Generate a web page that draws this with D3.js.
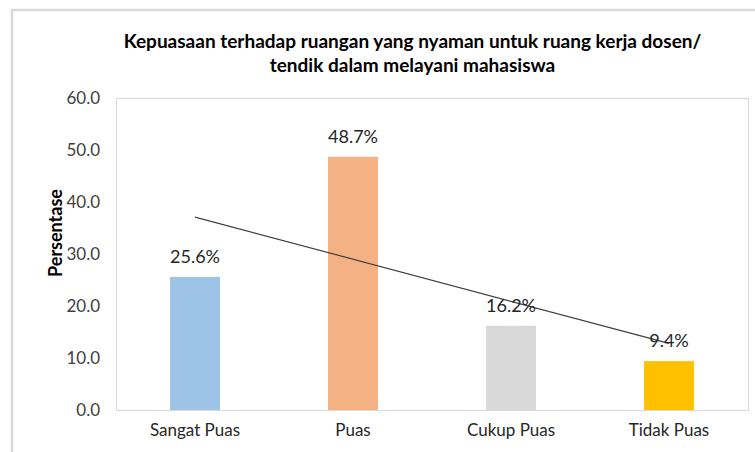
<!DOCTYPE html>
<html>
<head>
<meta charset="utf-8">
<script src="https://cdn.jsdelivr.net/npm/d3@7"></script>
<style>
  html, body { margin: 0; padding: 0; background: #fff; }
  svg { display: block; }
  text { font-family: Lato, "Open Sans", sans-serif; }
</style>
</head>
<body>
<svg id="chart" width="755" height="452"></svg>
<script>
// ── data ──
var categories = ['Sangat Puas', 'Puas', 'Cukup Puas', 'Tidak Puas'];
var values = [25.6, 48.7, 16.2, 9.4];
var barColors = ['#9DC3E6', '#F4B183', '#D9D9D9', '#FFC000'];
var yTicks = [0, 10, 20, 30, 40, 50, 60];
// linear trendline, value at first and last category
var trendValues = [37.1, 12.8];
var titleLines = ['Kepuasaan terhadap ruangan yang nyaman untuk ruang kerja dosen/', 'tendik dalam melayani mahasiswa'];
var yTitle = 'Persentase';

(function () {
  var svg = d3.select('#chart');
  var plot = { left: 116, right: 748, top: 98, bottom: 410 };

  svg.append('rect').attr('width', 755).attr('height', 452).attr('fill', '#fff');

  // outer chart frame
  svg.append('rect')
    .attr('x', 12).attr('y', 10).attr('width', 800).attr('height', 500)
    .attr('fill', 'none').attr('stroke', '#D9D9D9').attr('stroke-width', 2.5);

  var x = d3.scaleBand().domain(categories).range([plot.left, plot.right])
    .paddingInner(0.684).paddingOuter(0.342);
  var y = d3.scaleLinear().domain([0, 60]).range([plot.bottom, plot.top]);

  // plot area border
  svg.append('rect')
    .attr('x', plot.left + 0.5).attr('y', plot.top + 0.5)
    .attr('width', plot.right - plot.left).attr('height', plot.bottom - plot.top)
    .attr('fill', 'none').attr('stroke', '#D9D9D9').attr('stroke-width', 1);

  // y axis labels
  var yAxis = d3.axisLeft(y).tickValues(yTicks).tickFormat(d3.format('.1f')).tickSize(0).tickPadding(16);
  var gy = svg.append('g').attr('transform', 'translate(' + plot.left + ',0)').call(yAxis);
  gy.select('.domain').remove();
  gy.selectAll('text').attr('font-size', 17).attr('fill', '#404040')
    .style('font-family', 'Lato, sans-serif');

  // x axis labels
  var xAxis = d3.axisBottom(x).tickSize(0).tickPadding(14);
  var gx = svg.append('g').attr('transform', 'translate(0,' + plot.bottom + ')').call(xAxis);
  gx.select('.domain').remove();
  gx.selectAll('text').attr('font-size', 17).attr('fill', '#262626')
    .style('font-family', 'Lato, sans-serif');

  // bars
  svg.append('g').selectAll('rect').data(values).join('rect')
    .attr('x', function (d, i) { return x(categories[i]); })
    .attr('y', function (d) { return y(d); })
    .attr('width', x.bandwidth())
    .attr('height', function (d) { return y(0) - y(d); })
    .attr('fill', function (d, i) { return barColors[i]; });

  // trendline
  svg.append('line')
    .attr('x1', x(categories[0]) + x.bandwidth() / 2)
    .attr('y1', y(trendValues[0]))
    .attr('x2', x(categories[categories.length - 1]) + x.bandwidth() / 2)
    .attr('y2', y(trendValues[1]))
    .attr('stroke', '#404040').attr('stroke-width', 1.2);

  // data labels
  svg.append('g').selectAll('text').data(values).join('text')
    .attr('x', function (d, i) { return x(categories[i]) + x.bandwidth() / 2; })
    .attr('y', function (d) { return y(d) - 14; })
    .attr('text-anchor', 'middle').attr('font-size', 18).attr('fill', '#262626')
    .text(function (d) { return d.toFixed(1) + '%'; });

  // title
  svg.append('g').selectAll('text').data(titleLines).join('text')
    .attr('x', 412.5).attr('y', function (d, i) { return 48 + i * 24; })
    .attr('text-anchor', 'middle').attr('font-size', 19).attr('font-weight', 'bold')
    .attr('fill', '#000')
    .text(function (d) { return d; });

  // y axis title
  svg.append('text')
    .attr('transform', 'translate(62,233) rotate(-90)')
    .attr('text-anchor', 'middle').attr('font-size', 18).attr('font-weight', 'bold')
    .attr('fill', '#000')
    .text(yTitle);
})();
</script>
</body>
</html>
